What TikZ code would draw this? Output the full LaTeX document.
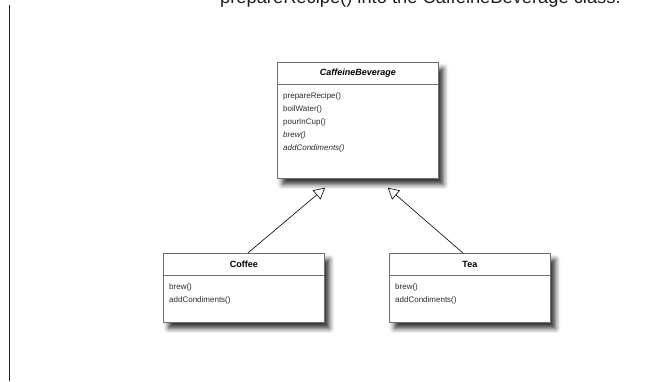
\documentclass[tikz,border=0pt]{standalone}
\usepackage{fontspec}
\setmainfont{Liberation Sans}
\usetikzlibrary{positioning,arrows.meta,shadows.blur}
\definecolor{boxline}{HTML}{6E6E6E}
\definecolor{captiongray}{HTML}{1E1E1E}
\definecolor{opsgray}{HTML}{2A2A2A}

\tikzset{
  classbox/.style={draw=boxline,fill=white,line width=0.8pt,minimum width=161pt,
                   anchor=north west,inner sep=0pt,
                   blur shadow={shadow xshift=5pt,shadow yshift=-6pt,
                                shadow blur radius=5pt,shadow opacity=80}},
  classname/.style={font=\fontsize{9}{11}\selectfont\bfseries,inner sep=0pt},
  methods/.style={font=\fontsize{8}{13}\selectfont,text=opsgray,align=left,
                  anchor=north west,inner sep=0pt},
  inherit/.style={-{Triangle[open,length=11pt,width=12pt]},line width=0.6pt},
}

\begin{document}
\begin{tikzpicture}[x=1pt,y=-1pt]
\useasboundingbox (0,0) rectangle (645,381);
\clip (0,0) rectangle (645,381);

% caption line cut off at the top, and the margin rule
\node[font=\fontsize{18.3}{20}\selectfont,text=captiongray,anchor=base west,inner sep=0pt]
  (caption) at (220,3.5) {prepareRecipe() into the CaffeineBeverage class.};
\draw[line width=1.5pt,captiongray] (9.5,5) -- (9.5,381);

% the three classes
\node[classbox,minimum height=116pt] (bev) at (277,62) {};
\node[classbox,minimum height=69pt] (coffee) at (163,253) {};
\node[classbox,minimum height=69pt] (tea) at (389,253) {};

\node[classname] (bevname) at ([yshift=-11pt]bev.north) {\itshape CaffeineBeverage};
\node[classname] (coffeename) at ([yshift=-11pt]coffee.north) {Coffee};
\node[classname] (teaname) at ([yshift=-11pt]tea.north) {Tea};

\foreach \c in {bev,coffee,tea}
  \draw[boxline,line width=0.8pt] ([yshift=-22pt]\c.north west) -- ([yshift=-22pt]\c.north east);

\node[methods] (bevops) at ([xshift=6pt,yshift=-30pt]bev.north west) {%
    prepareRecipe()\\
    boilWater()\\
    pourInCup()\\
    \itshape brew()\\
    \itshape addCondiments()};
\node[methods] (coffeeops) at ([xshift=6pt,yshift=-30pt]coffee.north west) {%
    brew()\\
    addCondiments()};
\node[methods] (teaops) at ([xshift=6pt,yshift=-30pt]tea.north west) {%
    brew()\\
    addCondiments()};

% inheritance
\draw[inherit] ([xshift=4pt]coffee.north) -- ([xshift=48pt,yshift=-9pt]bev.south west);
\draw[inherit] ([xshift=-7pt]tea.north) -- ([xshift=-51pt,yshift=-9pt]bev.south east);
\end{tikzpicture}
\end{document}
